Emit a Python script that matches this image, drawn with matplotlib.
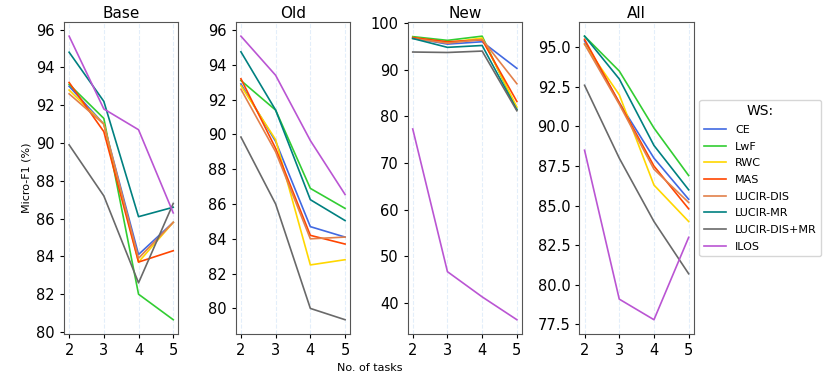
import matplotlib
matplotlib.use("Agg")
import matplotlib.pyplot as plt

tasks = [2, 3, 4, 5]
methods = ["CE", "LwF", "RWC", "MAS", "LUCIR-DIS", "LUCIR-MR", "LUCIR-DIS+MR", "ILOS"]
colors = ["#4169e1", "#32cd32", "#ffd700", "#ff4500", "#e2804a", "#008080", "#696969", "#ba55d3"]

base = [
    [93.0, 91.0, 84.1, 85.8],
    [93.1, 91.3, 82.0, 80.65],
    [92.8, 91.0, 83.7, 85.8],
    [93.2, 90.6, 83.7, 84.3],
    [92.6, 91.0, 83.9, 85.8],
    [94.8, 92.2, 86.1, 86.6],
    [89.9, 87.2, 82.6, 86.8],
    [95.65, 91.8, 90.7, 86.3],
]
old = [
    [92.9, 89.6, 84.7, 84.1],
    [93.1, 91.4, 86.9, 85.75],
    [92.8, 89.7, 82.5, 82.8],
    [93.2, 89.2, 84.2, 83.7],
    [92.6, 89.0, 84.0, 84.1],
    [94.75, 91.4, 86.25, 85.05],
    [89.85, 86.0, 80.0, 79.35],
    [95.65, 93.4, 89.65, 86.55],
]
new = [
    [96.8, 95.5, 96.0, 90.3],
    [97.1, 96.3, 97.2, 81.5],
    [96.9, 95.8, 96.8, 82.0],
    [96.9, 96.0, 96.4, 83.2],
    [96.7, 95.7, 96.5, 87.0],
    [96.7, 94.8, 95.2, 81.4],
    [93.8, 93.7, 94.0, 81.2],
    [77.3, 46.7, 41.3, 36.4],
]
alls = [
    [95.4, 91.5, 88.0, 85.4],
    [95.7, 93.5, 89.9, 86.9],
    [95.2, 92.0, 86.3, 84.0],
    [95.5, 91.5, 87.5, 84.8],
    [95.2, 91.4, 87.3, 85.2],
    [95.7, 93.0, 88.8, 86.0],
    [92.6, 88.0, 84.0, 80.7],
    [88.5, 79.1, 77.8, 83.0],
]

panels = [("Base", base), ("Old", old), ("New", new), ("All", alls)]

fig, axes = plt.subplots(1, 4, figsize=(8.3, 3.79), dpi=100)
fig.subplots_adjust(left=0.077, right=0.836, bottom=0.119, top=0.942, wspace=0.5)

for ax, (title, data) in zip(axes, panels):
    for name, c, vals in zip(methods, colors, data):
        ax.plot(tasks, vals, color=c, lw=1.2, label=name)
    ax.set_title(title, fontsize=11, pad=3)
    ax.set_xticks(tasks)
    ax.tick_params(labelsize=10.5, length=3)
    ax.xaxis.grid(True, ls="--", color="#e3eefa", lw=0.8)
    ax.set_axisbelow(True)
    for s in ax.spines.values():
        s.set_color("#555555")

fig.text(0.032, 0.53, "Micro-F1 (%)", rotation=90, va="center", ha="center", fontsize=8)
fig.text(0.445, 0.03, "No. of tasks", ha="center", va="center", fontsize=8)

leg = axes[3].legend(title="WS:", loc="center left", bbox_to_anchor=(1.0, 0.5),
                     fontsize=8, title_fontsize=10, handlelength=2.0, labelspacing=0.6)
leg.get_frame().set_edgecolor("#cccccc")

fig.savefig("out.png", dpi=100)
